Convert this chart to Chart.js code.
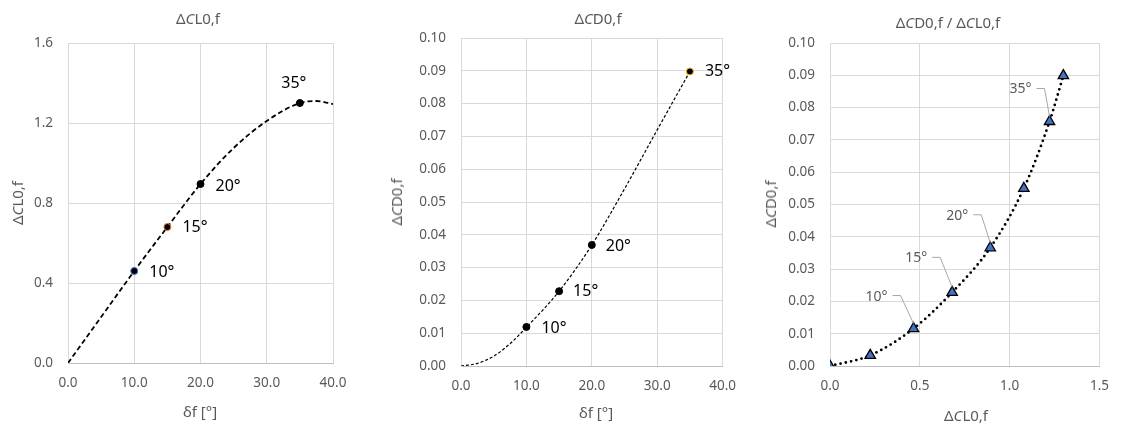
<!DOCTYPE html>
<html>
<head>
<meta charset="utf-8">
<script src="https://cdn.jsdelivr.net/npm/chart.js@4"></script>
<style>
  body { margin: 0; background: #fff; font-family: 'Noto Sans', sans-serif; }
  #wrap { position: relative; width: 1121px; height: 428px; }
  .panel { position: absolute; top: 0; height: 428px; }
  .txt { position: absolute; color: #595959; font-size: 15px; white-space: nowrap; transform: translate(-50%, -50%); }
  .rot { transform: translate(-50%, -50%) rotate(-90deg); }
</style>
</head>
<body>
<div id="wrap">
  <div class="panel" style="left:0;width:374px">
    <canvas id="clChart" width="374" height="428"></canvas>
    <div class="txt" style="left:198px;top:18px">Δ<i>C</i>L0,f</div>
    <div class="txt rot" style="left:17px;top:203px">Δ<i>C</i>L0,f</div>
    <div class="txt" style="left:200px;top:411px">δf [°]</div>
  </div>
  <div class="panel" style="left:374px;width:374px">
    <canvas id="cdChart" width="374" height="428"></canvas>
    <div class="txt" style="left:224px;top:18px">Δ<i>C</i>D0,f</div>
    <div class="txt rot" style="left:22px;top:202px">Δ<i>C</i>D0,f</div>
    <div class="txt" style="left:222px;top:412px">δf [°]</div>
  </div>
  <div class="panel" style="left:748px;width:373px">
    <canvas id="polarChart" width="373" height="428"></canvas>
    <div class="txt" style="left:200px;top:22px">Δ<i>C</i>D0,f / Δ<i>C</i>L0,f</div>
    <div class="txt rot" style="left:22px;top:204px">Δ<i>C</i>D0,f</div>
    <div class="txt" style="left:218px;top:415px">Δ<i>C</i>L0,f</div>
  </div>
</div>
<script>
// lift increment vs flap deflection
const clDeflection = [10, 15, 20, 35];
const clValues = [0.46, 0.68, 0.895, 1.30];
const clTags = ['10°', '15°', '20°', '35°'];
const clTrendX = [0, 5, 10, 15, 20, 25, 30, 35, 37.5, 40];
const clTrendY = [0, 0.23, 0.46, 0.68, 0.895, 1.075, 1.21, 1.30, 1.31, 1.295];

// drag increment vs flap deflection
const cdDeflection = [10, 15, 20, 35];
const cdValues = [0.0119, 0.0228, 0.0369, 0.0898];
const cdTags = ['10°', '15°', '20°', '35°'];
const cdTrendX = [0, 2.5, 5, 7.5, 10, 15, 20, 25, 30, 35];
const cdTrendY = [0, 0.0008, 0.003, 0.0068, 0.0118, 0.0228, 0.0369, 0.054, 0.072, 0.0898];

// drag increment vs lift increment
const polarCL = [0, 0.224, 0.465, 0.68, 0.892, 1.079, 1.222, 1.299];
const polarCD = [0, 0.0033, 0.0116, 0.0228, 0.0366, 0.055, 0.0757, 0.0899];
const polarTags = ['', '', '10°', '15°', '20°', '', '35°', ''];

const FONT = "'Noto Sans', sans-serif";
const GREY = '#595959';
const GRID = '#d9d9d9';

const pts = (xs, ys) => xs.map((x, i) => ({ x: x, y: ys[i] }));

// draws the little "10°" etc. labels next to the markers
function tagPlugin(tags, offsets, opt) {
    return {
        id: 'tags',
        afterDatasetsDraw(chart) {
            const meta = chart.getDatasetMeta(0);
            const ctx = chart.ctx;
            ctx.save();
            ctx.font = opt.size + 'px ' + FONT;
            ctx.fillStyle = opt.color;
            ctx.textBaseline = 'middle';
            tags.forEach((t, i) => {
                if (!t) return;
                const p = meta.data[i];
                const [dx, dy] = offsets[i];
                if (opt.leader) {
                    const w = ctx.measureText(t).width;
                    const tx = p.x + dx, ty = p.y + dy;
                    ctx.textAlign = 'center';
                    ctx.fillText(t, tx, ty);
                    const sx = tx + w / 2 + 5;
                    ctx.strokeStyle = '#a6a6a6';
                    ctx.lineWidth = 1;
                    ctx.beginPath();
                    ctx.moveTo(sx, ty - 1);
                    ctx.lineTo(sx + 8, ty - 1);
                    ctx.lineTo(p.x, p.y - 5);
                    ctx.stroke();
                } else {
                    ctx.textAlign = offsets[i][2] || 'left';
                    ctx.fillText(t, p.x + dx, p.y + dy);
                }
            });
            ctx.restore();
        }
    };
}

function axes(xMin, xMax, xStep, xDec, yMax, yStep, yDec, yWidth, xHeight) {
    const tickFont = { family: FONT, size: 13.5 };
    return {
        x: {
            type: 'linear', min: xMin, max: xMax,
            ticks: { stepSize: xStep, color: GREY, font: tickFont, padding: 12, callback: v => v.toFixed(xDec) },
            grid: { color: GRID, drawTicks: false },
            border: { color: '#bfbfbf' },
            afterFit: s => { s.height = xHeight; }
        },
        y: {
            type: 'linear', min: 0, max: yMax,
            ticks: { stepSize: yStep, color: GREY, font: tickFont, padding: 15, callback: v => v.toFixed(yDec) },
            grid: { color: GRID, drawTicks: false },
            border: { color: GRID },
            afterFit: s => { s.width = yWidth; }
        }
    };
}

const common = {
    responsive: false,
    animation: false,
    plugins: { legend: { display: false }, tooltip: { enabled: false } }
};

new Chart(document.getElementById('clChart'), {
    type: 'scatter',
    data: {
        datasets: [
            { data: pts(clDeflection, clValues), pointRadius: 3.5, backgroundColor: '#000',
              borderColor: ['#4472c4', '#ed7d31', '#000', '#000'], borderWidth: 1 },
            { data: pts(clTrendX, clTrendY), showLine: true, pointRadius: 0, borderColor: '#000',
              borderWidth: 1.8, borderDash: [5, 3], cubicInterpolationMode: 'monotone' }
        ]
    },
    options: { ...common, layout: { padding: { top: 43, right: 41, left: 0, bottom: 0 } },
        scales: axes(0, 40, 10, 1, 1.6, 0.4, 1, 68, 65) },
    plugins: [tagPlugin(clTags, [[15, 1], [15, 0], [15, 2], [-6, -20, 'center']], { size: 16, color: '#000' })]
});

new Chart(document.getElementById('cdChart'), {
    type: 'scatter',
    data: {
        datasets: [
            { data: pts(cdDeflection, cdValues), pointRadius: 3.5, backgroundColor: '#000',
              borderColor: ['#000', '#000', '#000', '#ffc000'], borderWidth: 1 },
            { data: pts(cdTrendX, cdTrendY), showLine: true, pointRadius: 0, borderColor: '#000',
              borderWidth: 1.2, borderDash: [3, 2], cubicInterpolationMode: 'monotone' }
        ]
    },
    options: { ...common, layout: { padding: { top: 38, right: 17, left: 0, bottom: 0 } },
        scales: axes(0, 40, 10, 1, 0.1, 0.01, 2, 87, 62) },
    plugins: [tagPlugin(cdTags, [[15, 1], [14, 0], [14, 1], [15, 0]], { size: 16, color: '#000' })]
});

new Chart(document.getElementById('polarChart'), {
    type: 'scatter',
    data: {
        datasets: [
            { data: pts(polarCL, polarCD), pointStyle: 'triangle', pointRadius: 6,
              backgroundColor: '#4472c4', borderColor: '#000', borderWidth: 1.3 },
            { data: pts(polarCL, polarCD), showLine: true, pointRadius: 0, borderColor: '#000',
              borderWidth: 2.8, borderDash: [0, 5.4], borderCapStyle: 'round', cubicInterpolationMode: 'monotone' }
        ]
    },
    options: { ...common, layout: { padding: { top: 43, right: 19, left: 0, bottom: 0 } },
        scales: axes(0, 1.5, 0.5, 1, 0.1, 0.01, 2, 82, 62) },
    plugins: [tagPlugin(polarTags, [0, 0, [-37, -32], [-36, -34], [-33, -32], 0, [-29, -32], 0], { size: 14, color: GREY, leader: true })]
});
</script>
</body>
</html>
